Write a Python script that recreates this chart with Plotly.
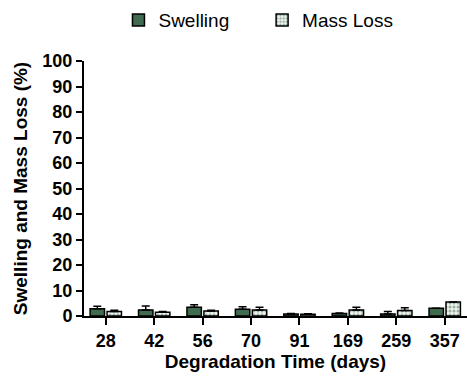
import plotly.graph_objects as go

days = ["28", "42", "56", "70", "91", "169", "259", "357"]
swelling = [2.8, 2.4, 3.4, 2.6, 0.8, 1.0, 0.8, 3.0]
swelling_err = [1.0, 1.5, 1.0, 1.0, 0.2, 0.2, 1.0, 0.0]
mass_loss = [1.8, 1.5, 2.0, 2.4, 0.7, 2.4, 2.2, 5.5]
mass_loss_err = [0.5, 0.3, 0.3, 1.0, 0.2, 1.0, 1.0, 0.0]

green = "#3f6b50"
font = "Liberation Sans, Arial, sans-serif"

fig = go.Figure()
fig.add_trace(go.Bar(
    x=days, y=swelling, name="Swelling", legend="legend",
    marker=dict(color=green, line=dict(color="black", width=1.5)),
    error_y=dict(type="data", array=swelling_err, arrayminus=[0]*len(days), symmetric=False,
                 color="black", thickness=1.5, width=4),
))
fig.add_trace(go.Bar(
    x=days, y=mass_loss, name="Mass Loss", legend="legend2",
    marker=dict(color="#eef3ee", line=dict(color="black", width=1.5),
                pattern=dict(shape=".", fgcolor=green, bgcolor="#eef3ee", size=4, solidity=0.45)),
    error_y=dict(type="data", array=mass_loss_err, arrayminus=[0]*len(days), symmetric=False,
                 color="black", thickness=1.5, width=4),
))

leg_common = dict(orientation="h", xanchor="left", y=1.16, yanchor="middle",
                  font=dict(size=19, family=font), itemwidth=30, bgcolor="rgba(0,0,0,0)")
fig.update_layout(
    width=467, height=377,
    margin=dict(l=84, r=0, t=61, b=61),
    paper_bgcolor="white", plot_bgcolor="white",
    barmode="group", bargap=0.3, bargroupgap=0.15,
    font=dict(family=font, color="black"),
    legend=dict(x=0.09, **leg_common),
    legend2=dict(x=0.465, **leg_common),
    showlegend=True,
)
fig.update_xaxes(
    range=[-0.45, 7.46],
    showline=True, linecolor="black", linewidth=2,
    ticks="outside", ticklen=7, tickwidth=2, tickcolor="black",
    tickfont=dict(size=18, family=font, weight="bold"),
    title=dict(text="Degradation Time (days)", font=dict(size=19, family=font, weight="bold"), standoff=4),
    showgrid=False,
)
fig.update_yaxes(
    range=[0, 100], dtick=10,
    showline=True, linecolor="black", linewidth=2,
    ticks="outside", ticklen=6, tickwidth=2, tickcolor="black",
    tickfont=dict(size=18, family=font, weight="bold"),
    title=dict(text="Swelling and Mass Loss (%)", font=dict(size=19, family=font, weight="bold"), standoff=10),
    showgrid=False, zeroline=False,
)

fig.write_html("out.html")
